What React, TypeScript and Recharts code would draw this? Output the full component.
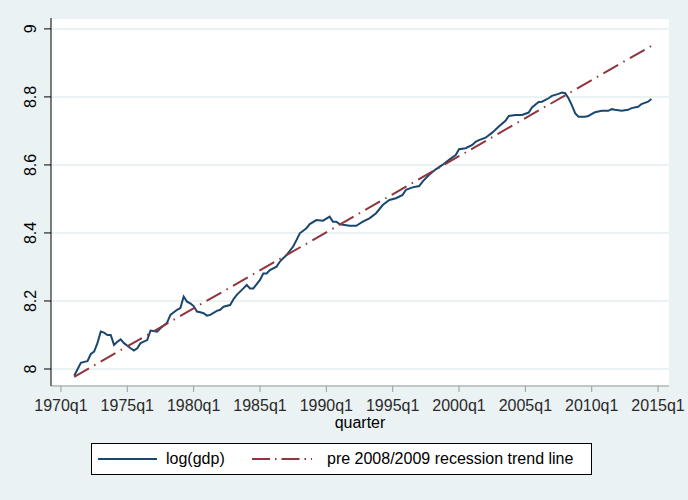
import React from 'react';
import { LineChart, Line, XAxis, YAxis, CartesianGrid } from 'recharts';

const gdpQuarters = [
  '1971q1', '1971q3', '1971q4', '1972q1', '1972q2', '1972q3', '1972q4', '1973q1', '1973q2', '1973q3',
  '1973q4', '1974q1', '1974q2', '1974q3', '1974q4', '1975q2', '1975q3', '1975q4', '1976q1', '1976q3',
  '1976q4', '1977q2', '1977q3', '1978q1', '1978q2', '1978q4', '1979q1', '1979q2', '1979q3', '1979q4',
  '1980q1', '1980q2', '1980q3', '1980q4', '1981q1', '1981q2', '1981q4', '1982q1', '1982q2', '1982q4',
  '1983q1', '1983q2', '1983q4', '1984q1', '1984q2', '1984q3', '1985q1', '1985q2', '1985q3', '1985q4',
  '1986q2', '1986q3', '1987q1', '1987q3', '1987q4', '1988q1', '1988q3', '1988q4', '1989q2', '1989q4',
  '1990q2', '1990q3', '1990q4', '1991q1', '1991q2', '1991q4', '1992q2', '1992q4', '1993q2', '1993q4',
  '1994q2', '1994q4', '1995q2', '1995q4', '1996q1', '1996q3', '1997q1', '1997q2', '1997q4', '1998q2',
  '1998q4', '1999q2', '1999q4', '2000q1', '2000q3', '2001q1', '2001q2', '2001q3', '2002q1', '2002q3',
  '2003q1', '2003q3', '2003q4', '2004q2', '2004q4', '2005q2', '2005q3', '2006q1', '2006q2', '2006q4',
  '2007q1', '2007q3', '2007q4', '2008q1', '2008q2', '2008q3', '2008q4', '2009q1', '2009q3', '2009q4',
  '2010q2', '2010q4', '2011q2', '2011q3', '2011q4', '2012q2', '2012q4', '2013q1', '2013q3', '2013q4',
  '2014q2', '2014q3',
];

const gdpValues = [
  7.980, 8.018, 8.021, 8.023, 8.044, 8.051, 8.076, 8.110, 8.107, 8.100,
  8.100, 8.071, 8.080, 8.087, 8.076, 8.061, 8.054, 8.061, 8.076, 8.085,
  8.113, 8.110, 8.120, 8.136, 8.159, 8.174, 8.179, 8.213, 8.198, 8.193,
  8.185, 8.169, 8.167, 8.164, 8.157, 8.159, 8.171, 8.174, 8.183, 8.188,
  8.205, 8.218, 8.237, 8.247, 8.237, 8.237, 8.262, 8.281, 8.281, 8.291,
  8.301, 8.316, 8.335, 8.360, 8.379, 8.399, 8.414, 8.426, 8.438, 8.436,
  8.448, 8.433, 8.433, 8.426, 8.424, 8.421, 8.421, 8.433, 8.443, 8.458,
  8.482, 8.497, 8.502, 8.512, 8.527, 8.534, 8.538, 8.551, 8.571, 8.587,
  8.600, 8.615, 8.629, 8.646, 8.649, 8.659, 8.668, 8.673, 8.680, 8.695,
  8.713, 8.730, 8.744, 8.747, 8.747, 8.754, 8.769, 8.785, 8.786, 8.796,
  8.803, 8.809, 8.813, 8.811, 8.796, 8.776, 8.752, 8.742, 8.742, 8.744,
  8.755, 8.759, 8.759, 8.764, 8.762, 8.759, 8.762, 8.767, 8.771, 8.779,
  8.786, 8.794,
];

const trendQuarters = ['1971q1', '2014q3'];
const trendValues = [7.977, 8.950];

const yTicks = [8, 8.2, 8.4, 8.6, 8.8, 9];
const xTickLabels = ['1970q1', '1975q1', '1980q1', '1985q1', '1990q1', '1995q1', '2000q1', '2005q1', '2010q1', '2015q1'];

const seriesNames = ['log(gdp)', 'pre 2008/2009 recession trend line'];
const xAxisTitle = 'quarter';

const NAVY = '#1a476f';
const MAROON = '#90353b';
const BG = '#eaf2f3';
const FONT = '"Liberation Sans", Arial, sans-serif';
const TREND_DASH = '17 6 1.5 6';

const qIndex = (label: string) => {
  const [y, q] = label.split('q');
  return (Number(y) - 1970) * 4 + (Number(q) - 1);
};

const gdpData = gdpQuarters.map((q, i) => ({ q: qIndex(q), v: gdpValues[i] }));
const trendData = trendQuarters.map((q, i) => ({ q: qIndex(q), v: trendValues[i] }));
const xTicks = xTickLabels.map(qIndex);
const labelByIndex: Record<number, string> = {};
xTickLabels.forEach((l) => (labelByIndex[qIndex(l)] = l));

const fmtY = (v: number) => String(Number(v.toFixed(1)));

const YTick = (props: any) => {
  const { x, y, payload } = props;
  return (
    <text
      x={x}
      y={y}
      transform={`rotate(-90 ${x} ${y})`}
      textAnchor="middle"
      fontSize={16}
      fontFamily={FONT}
      fill="#000"
    >
      {fmtY(payload.value)}
    </text>
  );
};

const XTitle = (props: any) => {
  const vb = props.viewBox || {};
  return (
    <text
      x={vb.x + vb.width / 2}
      y={vb.y + 42}
      textAnchor="middle"
      fontSize={16}
      fontFamily={FONT}
      fill="#000"
    >
      {xAxisTitle}
    </text>
  );
};

const LegendBox = () => (
  <svg
    width={503}
    height={34}
    style={{ position: 'absolute', left: 90, top: 442 }}
  >
    <rect x={1.5} y={1.5} width={500} height={31} fill="#fff" stroke="#000" strokeWidth={1} />
    <line x1={8} x2={67} y1={17} y2={17} stroke={NAVY} strokeWidth={2} />
    <text x={76} y={22} fontSize={16} fontFamily={FONT} fill="#000">
      {seriesNames[0]}
    </text>
    <line x1={162} x2={222} y1={17} y2={17} stroke={MAROON} strokeWidth={2} strokeDasharray="18 5 1.5 5" />
    <text x={237} y={22} fontSize={16} fontFamily={FONT} fill="#000">
      {seriesNames[1]}
    </text>
  </svg>
);

export default function App() {
  return (
    <div
      style={{
        position: 'absolute',
        left: 0,
        top: 0,
        width: 688,
        height: 500,
        background: BG,
        overflow: 'hidden',
      }}
    >
      <LineChart
        width={688}
        height={500}
        margin={{ top: 18, right: 19, bottom: 64, left: 0 }}
      >
        <CartesianGrid
          vertical={false}
          horizontal={true}
          fill="#ffffff"
          fillOpacity={1}
          stroke={BG}
          strokeWidth={2}
        />
        <XAxis
          dataKey="q"
          type="number"
          domain={[-3, 183.3]}
          allowDataOverflow
          ticks={xTicks}
          interval={0}
          tickFormatter={(v: number) => labelByIndex[v] ?? ''}
          height={50}
          tickSize={6}
          tickMargin={8}
          axisLine={{ stroke: '#9a9a9a', strokeWidth: 1 }}
          tickLine={{ stroke: '#9a9a9a', strokeWidth: 1 }}
          tick={{ fill: '#2a2a2a', fontSize: 16, fontFamily: FONT }}
          label={XTitle}
        />
        <YAxis
          type="number"
          domain={[7.95, 9.032]}
          allowDataOverflow
          ticks={yTicks}
          interval={0}
          width={51}
          tickSize={7}
          tickMargin={8}
          axisLine={{ stroke: '#000', strokeWidth: 1 }}
          tickLine={{ stroke: '#000', strokeWidth: 1 }}
          tick={<YTick />}
        />
        <Line
          data={gdpData}
          dataKey="v"
          type="linear"
          stroke={NAVY}
          strokeWidth={2}
          dot={false}
          activeDot={false}
          isAnimationActive={false}
        />
        <Line
          data={trendData}
          dataKey="v"
          type="linear"
          stroke={MAROON}
          strokeWidth={2}
          strokeDasharray={TREND_DASH}
          dot={false}
          activeDot={false}
          isAnimationActive={false}
        />
      </LineChart>
      <LegendBox />
    </div>
  );
}
